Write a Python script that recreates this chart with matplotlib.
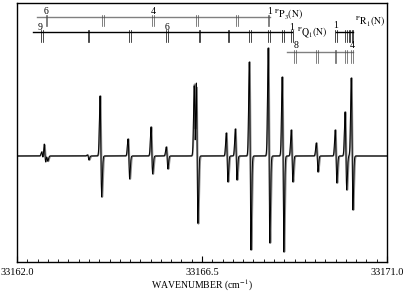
import numpy as np
import matplotlib
matplotlib.use('Agg')
import matplotlib.pyplot as plt
from matplotlib.ticker import MultipleLocator, FixedLocator

plt.rcParams['font.family'] = ['Liberation Serif', 'DejaVu Serif']
plt.rcParams['mathtext.fontset'] = 'stix'

# observed lines: position (cm-1), positive lobe, negative lobe (arb. units)
line_pos = [33162.62, 33162.68, 33162.73, 33163.73, 33164.04, 33164.72, 33165.28,
            33165.65, 33166.33, 33166.38, 33167.11, 33167.33, 33167.67, 33168.13,
            33168.47, 33168.69, 33169.30, 33169.76, 33170.00, 33170.15]
line_up = [4, 14, 4, 1, 60, 17, 29, 9, 69, 96, 23, 27, 94, 108, 79, 26, 13, 26, 44, 78]
line_down = [5, 9, 5, 4, 41, 23, 18, 13, 30, 67, 26, 24, 94, 87, 96, 26, 16, 27, 34, 54]

# assignment ladders
p3_pos = [33162.71, 33164.09, 33165.31, 33166.38, 33167.35, 33168.11]
p3_labels = [('6', 33162.71), ('4', 33165.31), ('1', 33168.14)]
q1_pos = [33162.61, 33163.73, 33164.75, 33165.65, 33166.43, 33167.14, 33167.67,
          33168.13, 33168.47, 33168.69]
q1_labels = [('9', 33162.55), ('6', 33165.65), ('1', 33168.69)]
r1_pos = [33169.76, 33170.00, 33170.08, 33170.17]
r1_labels = [('1', 33169.76)]
p3b_pos = [33168.76, 33169.30, 33169.74, 33170.00, 33170.15]
p3b_labels = [('8', 33168.78), ('4', 33170.15)]

wn = np.linspace(33162.0, 33171.0, 8000)


def spectrum(shift, width):
    y = np.zeros_like(wn)
    for p, u, d in zip(line_pos, line_up, line_down):
        t = (wn - p - shift) / width
        g = -t * np.exp(-t ** 2 / 2) * np.exp(0.5)
        y += np.where(g > 0, g * u, g * d)
    return y


fig = plt.figure(figsize=(4.08, 2.93), dpi=100)
ax = fig.add_axes([17 / 408, 31 / 293, 370 / 408, 259 / 293])

ax.plot(wn, spectrum(0.012, 0.022), color='0.55', lw=1.3)
ax.plot(wn, spectrum(0.0, 0.02), color='black', lw=0.7)


def ladder(pos, y0, length, color, x0, x1, labels, ly, lc):
    ax.plot([x0, x1], [y0, y0], color=color, lw=1.0)
    for p in pos:
        for dx in (-0.015, 0.015):
            ax.plot([p + dx, p + dx], [y0 + 2, y0 - length], color=lc, lw=0.5)
    for txt, p in labels:
        ax.text(p, ly, txt, ha='center', va='center', fontsize=7)


ladder(p3_pos, 139, 9, '0.5', 33162.49, 33168.16, p3_labels, 145, '0.3')
ladder(q1_pos, 124, 10, 'black', 33162.39, 33168.69, q1_labels, 129, 'black')
ladder(r1_pos, 124, 10, 'black', 33169.76, 33170.17, r1_labels, 131, 'black')
ladder(p3b_pos, 104, 11, '0.5', 33168.57, 33170.17, p3b_labels, 110, '0.3')

ax.text(33168.25, 141, r'$^{\rm P}\mathrm{P}_3\mathrm{(N)}$', fontsize=7, va='center')
ax.text(33168.80, 123, r'$^{\rm P}\mathrm{Q}_1\mathrm{(N)}$', fontsize=7, va='center')
ax.text(33170.22, 134, r'$^{\rm P}\mathrm{R}_1\mathrm{(N)}$', fontsize=7, va='center')

ax.set_xlim(33162.0, 33171.0)
ax.set_ylim(-106, 153)
ax.xaxis.set_major_locator(FixedLocator([33162.0, 33166.5, 33171.0]))
ax.xaxis.set_minor_locator(MultipleLocator(0.25))
ax.xaxis.set_major_formatter(plt.FuncFormatter(lambda v, p: '%.1f' % v))
ax.tick_params(axis='x', which='major', direction='in', length=4, width=0.8,
               labelsize=7.5, pad=4)
ax.tick_params(axis='x', which='minor', direction='in', length=2, width=0.6)
ax.set_yticks([])
for s in ax.spines.values():
    s.set_linewidth(1.0)
ax.set_xlabel('WAVENUMBER (cm$^{-1}$)', fontsize=7, labelpad=1)

fig.savefig('out.png', dpi=100)
